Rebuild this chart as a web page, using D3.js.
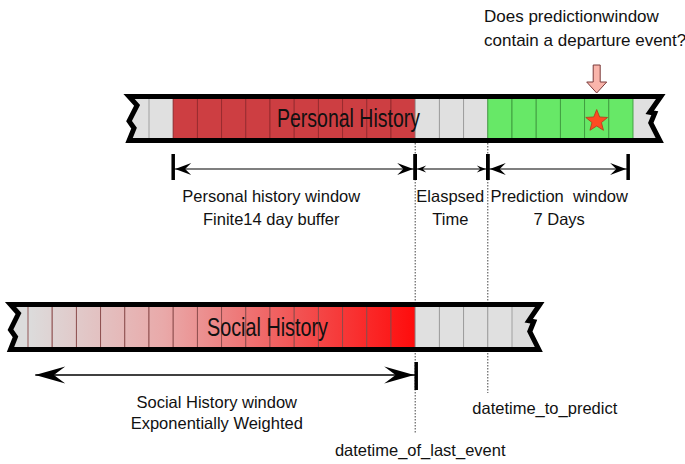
<!DOCTYPE html>
<html>
<head>
<meta charset="utf-8">
<script src="https://cdn.jsdelivr.net/npm/d3@7"></script>
<style>
body { margin: 0; background: #fff; }
svg text { font-family: "Liberation Sans", Arial, sans-serif; fill: #111; white-space: pre; }
</style>
</head>
<body>
<svg id="chart" width="685" height="464"></svg>
<script>
// all positions in days, relative to datetime_of_last_event (day 0)
const personalCells = ['empty',
  'history', 'history', 'history', 'history', 'history',
  'history', 'history', 'history', 'history', 'history',
  'empty', 'empty', 'empty',
  'predict', 'predict', 'predict', 'predict', 'predict', 'predict'];
const personalStart = -11;
const personalExtent = [-11.7, 9.9];

const socialCells = d3.range(16).map(() => 'social').concat(['empty', 'empty', 'empty', 'empty']);
const socialStart = -16;
const socialExtent = [-16.6, 4.9];

const lastEventDay = 0;
const predictDay = 3;
const eventDay = 7.5;   // the departure event (star)

const personalSpans = [
  { from: -10, to: 0, labelAt: -5.95, head: 'big', lines: ['Personal history window', 'Finite14 day buffer'] },
  { from: 0, to: 3, labelAt: 1.45, head: 'small', lines: ['Elaspsed', 'Time'] },
  { from: 3, to: 8.8, labelAt: 5.95, head: 'big', lines: ['Prediction  window', '7 Days'] }
];
const socialSpan = { from: -15.7, to: 0, labelAt: -8.2, lines: ['Social History window', 'Exponentially Weighted'] };

const question = ['Does predictionwindow', 'contain a departure event?'];

const fills = { empty: '#e0e0e0', history: '#cd3e42', predict: '#67e867' };
const lines = { empty: '#9a9a9a', history: '#962a2e', predict: '#3f9a3f', social: '#8a4a4a' };

const svg = d3.select('#chart');
const x = d3.scaleLinear().domain([-16, 9]).range([28, 633]);
const step = x(1) - x(0);

const defs = svg.append('defs');
const grad = defs.append('linearGradient')
    .attr('id', 'socialGrad')
    .attr('gradientUnits', 'userSpaceOnUse')
    .attr('x1', x(socialStart)).attr('x2', x(0))
    .attr('y1', 0).attr('y2', 0);
[[0, '#dcdcdc'], [0.35, '#e9a9a9'], [0.7, '#f25252'], [1, '#ff0c0c']].forEach(s => {
    grad.append('stop').attr('offset', s[0]).attr('stop-color', s[1]);
});

// dotted marker lines (behind the bars)
svg.append('line')
    .attr('x1', x(lastEventDay)).attr('x2', x(lastEventDay))
    .attr('y1', 143).attr('y2', 433)
    .attr('stroke', '#444').attr('stroke-width', 1).attr('stroke-dasharray', '1.5,1.5');
svg.append('line')
    .attr('x1', x(predictDay)).attr('x2', x(predictDay))
    .attr('y1', 143).attr('y2', 393)
    .attr('stroke', '#444').attr('stroke-width', 1).attr('stroke-dasharray', '1.5,1.5');

// torn-edge bar outline
function barPath(x0, x1, top, bot) {
    let h = bot - top;
    let left = [[x0 - 3, bot], [x0 + 2, top + 0.72 * h], [x0 - 3, top + 0.56 * h], [x0 + 5, top + 0.2 * h], [x0 - 3, top]];
    let right = [[x1 + 6, top], [x1 - 5, top + 0.36 * h], [x1, top + 0.38 * h], [x1 - 4, top + 0.6 * h], [x1 + 5, bot]];
    return d3.line()(right.concat(left)) + 'Z';
}

function drawBar(cells, start, extent, top, bot, bg) {
    let g = svg.append('g');
    let x0 = x(extent[0]), x1 = x(extent[1]);
    g.append('path')
        .attr('d', barPath(x0, x1, top, bot))
        .attr('fill', bg);

    g.selectAll('rect')
        .data(cells)
        .enter()
        .append('rect')
            .attr('x', (d, i) => x(start + i))
            .attr('y', top + 2)
            .attr('width', step)
            .attr('height', bot - top - 4)
            .attr('fill', d => d === 'social' ? 'url(#socialGrad)' : fills[d])
            .attr('stroke', d => lines[d])
            .attr('stroke-width', 0.9);

    g.append('path')
        .attr('d', barPath(x0, x1, top, bot))
        .attr('fill', 'none')
        .attr('stroke', '#000')
        .attr('stroke-width', 5)
        .attr('stroke-linejoin', 'miter');
    return g;
}

// personal history bar
let personal = drawBar(personalCells, personalStart, personalExtent, 96.5, 140.5, '#e0e0e0');
personal.append('text')
    .attr('x', 277).attr('y', 127)
    .attr('font-size', 25)
    .attr('textLength', 143)
    .attr('lengthAdjust', 'spacingAndGlyphs')
    .text('Personal History');

// departure event star
let star = d3.range(10).map(i => {
    let a = -Math.PI / 2 + i * Math.PI / 5;
    let r = i % 2 ? 5 : 11.5;
    return [Math.cos(a) * r, Math.sin(a) * r];
});
personal.append('path')
    .attr('d', d3.line()(star) + 'Z')
    .attr('transform', `translate(${x(eventDay)},${121})`)
    .attr('fill', '#ff4a22')
    .attr('stroke', '#b03a1a')
    .attr('stroke-width', 0.8);

// social history bar
let social = drawBar(socialCells, socialStart, socialExtent, 304.5, 349.5, '#dcdcdc');
social.append('text')
    .attr('x', 207).attr('y', 336)
    .attr('font-size', 25)
    .attr('textLength', 121)
    .attr('lengthAdjust', 'spacingAndGlyphs')
    .text('Social History');

// question arrow
let ax = x(eventDay);
svg.append('path')
    .attr('d', d3.line()([[ax - 3.5, 65], [ax + 3.5, 65], [ax + 3.5, 82], [ax + 10, 82], [ax, 93],
        [ax - 10, 82], [ax - 3.5, 82]]) + 'Z')
    .attr('fill', '#f9b5ab')
    .attr('stroke', '#7a3a3a')
    .attr('stroke-width', 1);

svg.selectAll('text.question')
    .data(question)
    .enter()
    .append('text')
        .attr('class', 'question')
        .attr('x', 484)
        .attr('y', (d, i) => 22 + i * 23.5)
        .attr('font-size', 17)
        .text(d => d);

// dimension arrows
function head(tipX, y, dir, len, hw) {
    return d3.line()([[tipX, y], [tipX - dir * len, y - hw], [tipX - dir * len * 0.62, y],
        [tipX - dir * len, y + hw]]) + 'Z';
}
const headSize = { big: [16, 6], small: [9, 3.6] };

let dims = svg.append('g');
let dy = 169;
personalSpans.forEach(s => {
    let a = x(s.from), b = x(s.to);
    let [len, hw] = headSize[s.head];
    dims.append('line')
        .attr('x1', a).attr('x2', b).attr('y1', dy).attr('y2', dy)
        .attr('stroke', '#000').attr('stroke-width', 1.2);
    dims.append('path').attr('d', head(a + 2, dy, -1, len, hw)).attr('fill', '#000');
    dims.append('path').attr('d', head(b - 2, dy, 1, len, hw)).attr('fill', '#000');
    [a, b].forEach(t => {
        dims.append('line')
            .attr('x1', t).attr('x2', t).attr('y1', 154).attr('y2', 180)
            .attr('stroke', '#000').attr('stroke-width', 3.5);
    });
    dims.selectAll(null)
        .data(s.lines)
        .enter()
        .append('text')
            .attr('x', x(s.labelAt))
            .attr('y', (d, i) => 202 + i * 23)
            .attr('text-anchor', 'middle')
            .attr('font-size', 16.5)
            .text(d => d);
});

// social window arrow
let sy = 375;
let sa = x(socialSpan.from), sb = x(socialSpan.to);
dims.append('line')
    .attr('x1', sa).attr('x2', sb).attr('y1', sy).attr('y2', sy)
    .attr('stroke', '#000').attr('stroke-width', 1.5);
dims.append('path').attr('d', head(sa, sy, -1, 30, 8.5)).attr('fill', '#000');
dims.append('path').attr('d', head(sb - 1, sy, 1, 30, 8.5)).attr('fill', '#000');
dims.append('line')
    .attr('x1', sb + 1).attr('x2', sb + 1).attr('y1', 362).attr('y2', 390)
    .attr('stroke', '#000').attr('stroke-width', 3.5);
dims.selectAll(null)
    .data(socialSpan.lines)
    .enter()
    .append('text')
        .attr('x', x(socialSpan.labelAt))
        .attr('y', (d, i) => 408 + i * 21)
        .attr('text-anchor', 'middle')
        .attr('font-size', 16.5)
        .text(d => d);

// marker labels
svg.append('text')
    .attr('x', x(predictDay) + 57).attr('y', 414)
    .attr('text-anchor', 'middle')
    .attr('font-size', 16.5)
    .text('datetime_to_predict');
svg.append('text')
    .attr('x', x(lastEventDay) + 5).attr('y', 456)
    .attr('text-anchor', 'middle')
    .attr('font-size', 16.5)
    .text('datetime_of_last_event');
</script>
</body>
</html>
